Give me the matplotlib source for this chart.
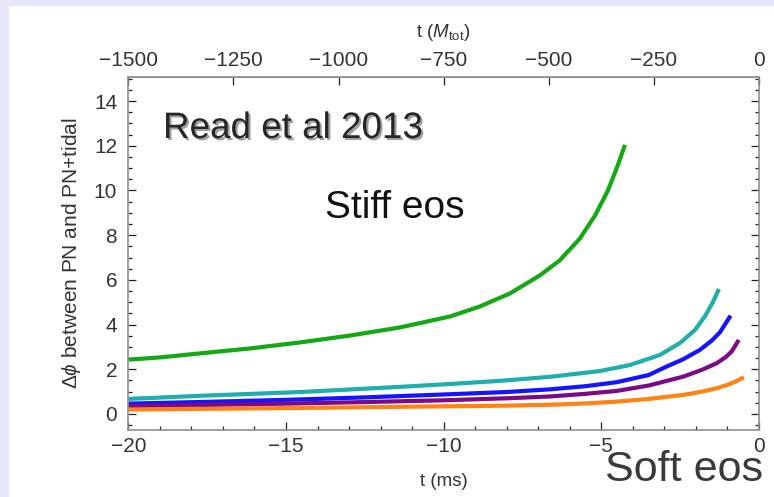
import numpy as np
import matplotlib.pyplot as plt
import matplotlib.ticker as mticker
import matplotlib.patheffects as pe
from matplotlib.patches import Rectangle

t_green = [-20, -18.99, -17.72, -16.14, -14.55, -12.96, -11.39, -9.80, -8.85, -7.90,
           -6.95, -6.32, -5.68, -5.20, -4.79, -4.48, -4.25]
phi_green = [2.43, 2.53, 2.71, 2.93, 3.20, 3.51, 3.87, 4.36, 4.81, 5.39,
             6.20, 6.87, 7.85, 8.88, 10.0, 11.12, 12.04]

t_cyan = [-20, -17.72, -14.55, -11.39, -9.80, -8.21, -6.63, -5.04, -4.09, -3.14,
          -2.50, -2.03, -1.71, -1.46, -1.27]
phi_cyan = [0.67, 0.81, 0.98, 1.21, 1.34, 1.48, 1.66, 1.92, 2.19, 2.64,
            3.18, 3.76, 4.38, 5.01, 5.59]

t_blue = [-20, -17.5, -15, -12.5, -10, -8, -6.63, -5.5, -4.51, -3.5,
          -2.93, -2.4, -1.88, -1.5, -1.24, -0.90]
phi_blue = [0.46, 0.54, 0.63, 0.74, 0.87, 0.98, 1.10, 1.24, 1.42, 1.74,
            2.12, 2.45, 2.86, 3.28, 3.65, 4.40]

t_purple = [-20, -17.5, -15, -12.5, -10, -8, -6.63, -5.5, -4.51, -3.5,
            -2.4, -1.8, -1.34, -1.05, -0.87, -0.64]
phi_purple = [0.35, 0.40, 0.46, 0.53, 0.61, 0.70, 0.78, 0.90, 1.03, 1.27,
              1.67, 1.98, 2.27, 2.55, 2.79, 3.31]

t_orange = [-20, -17.5, -15, -12.5, -10, -8, -6.63, -5.5, -4.51, -3.5,
            -2.4, -1.8, -1.34, -1.0, -0.82, -0.48]
phi_orange = [0.20, 0.23, 0.26, 0.30, 0.34, 0.37, 0.41, 0.47, 0.55, 0.67,
              0.85, 1.00, 1.15, 1.30, 1.40, 1.64]

series = [
    (t_green, phi_green, "#14a814"),
    (t_cyan, phi_cyan, "#1fadad"),
    (t_blue, phi_blue, "#1414ff"),
    (t_purple, phi_purple, "#7d0a85"),
    (t_orange, phi_orange, "#ff8214"),
]

MS_TO_M = 75.0  # -20 ms <-> -1500 M_tot

plt.rcParams["font.family"] = ["Liberation Sans", "DejaVu Sans"]
plt.rcParams["mathtext.fontset"] = "custom"
plt.rcParams["mathtext.rm"] = "Liberation Sans"
plt.rcParams["mathtext.it"] = "Liberation Sans:italic"

W, H = 774, 497
fig = plt.figure(figsize=(W / 100, H / 100), dpi=100, facecolor="white")

# lavender slide frame on top and left
fig.patches.append(Rectangle((0, 1 - 5 / H), 1, 5 / H, transform=fig.transFigure,
                             color="#e6e6fa", zorder=0))
fig.patches.append(Rectangle((0, 0), 8 / W, 1, transform=fig.transFigure,
                             color="#e6e6fa", zorder=0))

left, right, top, bottom = 128.3, 759, 77, 430
ax = fig.add_axes([left / W, 1 - bottom / H, (right - left) / W, (bottom - top) / H])

for t, phi, c in series:
    ax.plot(t, phi, color=c, lw=3.0, solid_capstyle="butt", solid_joinstyle="round")

ax.set_xlim(-20, 0)
ax.set_ylim(-0.72, 15.08)

for s in ax.spines.values():
    s.set_color("#8f8f8f")
    s.set_linewidth(1.2)

ax.xaxis.set_major_locator(mticker.MultipleLocator(5))
ax.xaxis.set_minor_locator(mticker.MultipleLocator(1))
ax.yaxis.set_minor_locator(mticker.MultipleLocator(0.5))
ax.set_yticks(np.arange(0, 15, 2))
ax.tick_params(which="both", direction="in", color="#222222", width=0.9,
               labelsize=15, labelcolor="#333333")
ax.tick_params(axis="y", which="both", right=True)
ax.tick_params(which="major", length=6)
ax.tick_params(which="minor", length=3)
ax.tick_params(axis="x", pad=5)
ax.tick_params(axis="y", pad=8)

ax.set_xlabel("t (ms)", fontsize=13.5, color="#333333", labelpad=12)
ax.set_ylabel(r"$\Delta\phi$ between PN and PN+tidal", fontsize=15, color="#333333",
              labelpad=7.5)

top_ax = ax.secondary_xaxis("top", functions=(lambda x: x * MS_TO_M, lambda x: x / MS_TO_M))
top_ax.xaxis.set_major_locator(mticker.MultipleLocator(250))
top_ax.tick_params(direction="in", length=6, color="#222222", width=0.9,
                   labelsize=15, labelcolor="#333333", pad=5)
top_ax.spines["top"].set_color("#8f8f8f")
top_ax.set_xlabel(r"t ($M_{\rm tot}$)", fontsize=13.5, color="#333333", labelpad=10)

fig.text(163 / W, 1 - 138 / H, "Read et al 2013", fontsize=26.5, color="#262626",
         path_effects=[pe.withSimplePatchShadow(offset=(1.5, -1.5), shadow_rgbFace="#777777",
                                                alpha=0.7)])
fig.text(325 / W, 1 - 218 / H, "Stiff eos", fontsize=28, color="#111111")
fig.text(605 / W, 1 - 481 / H, "Soft eos", fontsize=31, color="#3a3a3a")

fig.savefig("out.png", dpi=100, facecolor="white")
